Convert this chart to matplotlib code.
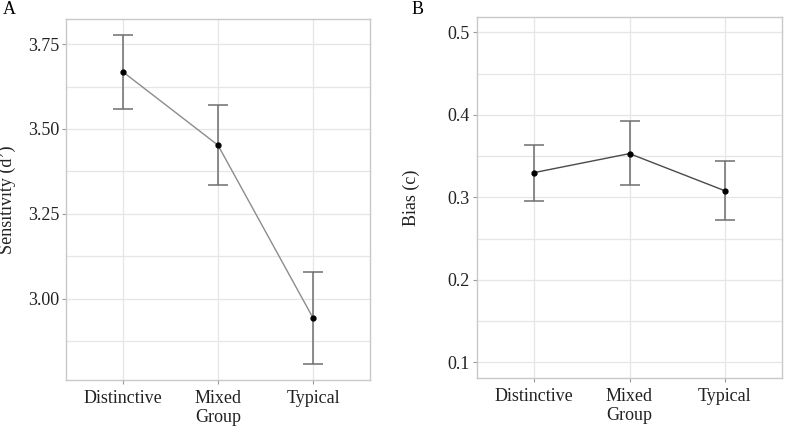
import numpy as np
import matplotlib
matplotlib.use("Agg")
import matplotlib.pyplot as plt

plt.rcParams['font.family'] = ['Liberation Serif', 'DejaVu Serif']

# data
groups = ["Distinctive", "Mixed\nGroup", "Typical"]

sens_mean = [3.668, 3.452, 2.943]
sens_lo = [3.558, 3.334, 2.807]
sens_hi = [3.778, 3.571, 3.077]

bias_mean = [0.330, 0.353, 0.308]
bias_lo = [0.295, 0.315, 0.272]
bias_hi = [0.364, 0.393, 0.344]

sens_ticks = [3.00, 3.25, 3.50, 3.75]
sens_minor = [2.875, 3.125, 3.375, 3.625]
bias_ticks = [0.1, 0.2, 0.3, 0.4, 0.5]
bias_minor = [0.15, 0.25, 0.35, 0.45]

GRID = "#e6e6e6"
BORDER = "#c8c8c8"
FS = 13


def draw_panel(ax, mean, lo, hi, line_col, ticks, minor, tick_fmt, ylim, ylabel):
    x = np.arange(1, len(mean) + 1)
    mean = np.array(mean)
    yerr = [mean - np.array(lo), np.array(hi) - mean]
    for t in ticks + minor:
        ax.axhline(t, color=GRID, lw=0.9, zorder=0)
    for xi in x:
        ax.axvline(xi, color=GRID, lw=0.9, zorder=0)
    ax.plot(x, mean, color=line_col, lw=1.0, zorder=2)
    ax.errorbar(x, mean, yerr=yerr, fmt='none', ecolor="#6e6e6e",
                elinewidth=1.1, capsize=7, capthick=1.1, zorder=3)
    ax.plot(x, mean, 'o', color="black", ms=3.5, zorder=4)
    ax.set_xlim(0.4, 3.6)
    ax.set_ylim(*ylim)
    ax.set_xticks(x, groups)
    ax.set_yticks(ticks, [tick_fmt.format(t) for t in ticks])
    ax.tick_params(axis='both', colors="#9a9a9a", length=3, width=0.8,
                   labelcolor="#222222", labelsize=FS, pad=2)
    ax.tick_params(axis='x', pad=4)
    for s in ax.spines.values():
        s.set_color(BORDER)
        s.set_linewidth(1.0)
    ax.set_ylabel(ylabel, fontsize=FS, color="#222222")


fig = plt.figure(figsize=(7.86, 4.30), dpi=100)
axA = fig.add_axes([66 / 786, 1 - 380 / 430, 304 / 786, 361 / 430])
axB = fig.add_axes([477 / 786, 1 - 378 / 430, 305 / 786, 361 / 430])

draw_panel(axA, sens_mean, sens_lo, sens_hi, "#8c8c8c", sens_ticks, sens_minor,
           "{:.2f}", (2.76, 3.824), "Sensitivity (d’)")
draw_panel(axB, bias_mean, bias_lo, bias_hi, "#4a4a4a", bias_ticks, bias_minor,
           "{:.1f}", (0.081, 0.5186), "Bias (c)")

axA.yaxis.set_label_coords(-0.163, 0.5)
axB.yaxis.set_label_coords(-0.187, 0.5)

fig.text(3 / 786, 1 - 10 / 430, "A", fontsize=FS, va='center', ha='left')
fig.text(412 / 786, 1 - 9 / 430, "B", fontsize=FS, va='center', ha='left')

fig.savefig("out.png", dpi=100)
